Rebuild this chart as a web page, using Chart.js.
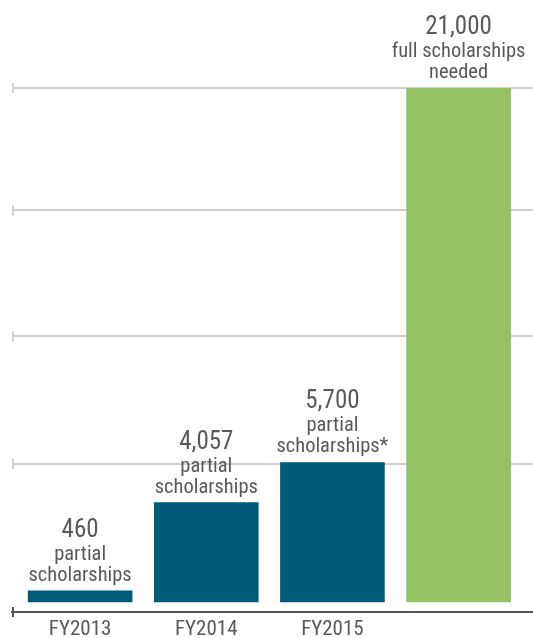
<!DOCTYPE html>
<html>
<head>
<meta charset="utf-8">
<script src="https://cdn.jsdelivr.net/npm/chart.js@4/dist/chart.umd.min.js"></script>
<style>
  html, body { margin: 0; padding: 0; background: #fff; }
  canvas { display: block; }
</style>
</head>
<body>
<canvas id="scholarChart" width="533" height="638"></canvas>
<script>
const categories = ['FY2013', 'FY2014', 'FY2015', ''];
const values = [460, 4057, 5700, 21000];
const barNotes = [['partial', 'scholarships'], ['partial', 'scholarships'], ['partial', 'scholarships*'], ['full scholarships', 'needed']];
const barColors = ['#005b79', '#005b79', '#005b79', '#95c262'];
// gridline levels (no tick labels are shown)
const gridValues = [5650, 10850, 16000, 21000];

const FONT = "'Roboto Condensed', 'Liberation Sans', sans-serif";
const TEXT_COLOR = '#58595b';

// Labels above each bar: number on top, notes below it
const barLabels = {
    id: 'barLabels',
    afterDatasetsDraw(chart) {
        const ctx = chart.ctx;
        const meta = chart.getDatasetMeta(0);
        ctx.save();
        ctx.fillStyle = TEXT_COLOR;
        ctx.textAlign = 'center';
        ctx.textBaseline = 'alphabetic';
        meta.data.forEach((bar, i) => {
            const lines = [values[i].toLocaleString('en-US')].concat(barNotes[i]);
            let y = bar.y - 10;
            for (let k = lines.length - 1; k >= 0; k--) {
                ctx.font = (k === 0 ? '25px ' : '20.5px ') + FONT;
                ctx.fillText(lines[k], bar.x, y);
                y -= (k === 1 ? 23 : 21);
            }
        });
        ctx.restore();
    }
};

// Little end caps on the left of each gridline and the axis line
const lineCaps = {
    id: 'lineCaps',
    afterDraw(chart) {
        const ctx = chart.ctx;
        const yScale = chart.scales.y;
        const left = chart.chartArea.left;
        ctx.save();
        ctx.lineWidth = 2;
        ctx.strokeStyle = '#cfcfcf';
        gridValues.forEach(v => {
            const y = yScale.getPixelForValue(v);
            ctx.beginPath();
            ctx.moveTo(left + 1, y - 5);
            ctx.lineTo(left + 1, y + 5);
            ctx.stroke();
        });
        ctx.strokeStyle = '#58595b';
        const yb = chart.chartArea.bottom;
        ctx.beginPath();
        ctx.moveTo(left + 1, yb - 5);
        ctx.lineTo(left + 1, yb + 5);
        ctx.stroke();
        ctx.restore();
    }
};

const ctx = document.getElementById('scholarChart').getContext('2d');
const scholarChart = new Chart(ctx, {
    type: 'bar',
    data: {
        datasets: [{
            data: values.map((v, i) => ({ x: i, y: v })),
            backgroundColor: barColors,
            borderWidth: 0,
            barThickness: 104,
        }],
    },
    options: {
        responsive: false,
        animation: false,
        devicePixelRatio: 1,
        layout: { padding: { top: 88, left: 12, right: 0, bottom: 0 } },
        plugins: {
            legend: { display: false },
            tooltip: { enabled: false },
        },
        scales: {
            x: {
                type: 'linear',
                offset: false,
                min: -0.54,
                max: 3.59,
                afterBuildTicks: (scale) => {
                    scale.ticks = categories.map((c, i) => ({ value: i }));
                },
                afterFit: (scale) => { scale.height = 26; },
                grid: { display: false, drawTicks: false },
                border: { display: true, color: '#58595b', width: 2 },
                ticks: {
                    autoSkip: false,
                    maxRotation: 0,
                    padding: 5,
                    color: TEXT_COLOR,
                    font: { family: FONT, size: 21 },
                    callback: (v) => categories[v] || '',
                },
            },
            y: {
                min: -409,
                max: 21000,
                afterBuildTicks: (scale) => {
                    scale.ticks = gridValues.map(v => ({ value: v }));
                },
                afterFit: (scale) => { scale.width = 0; },
                grid: { color: '#cfcfcf', lineWidth: 2, drawTicks: false },
                border: { display: false },
                ticks: { display: false },
            },
        },
    },
    plugins: [barLabels, lineCaps],
});
</script>
</body>
</html>
